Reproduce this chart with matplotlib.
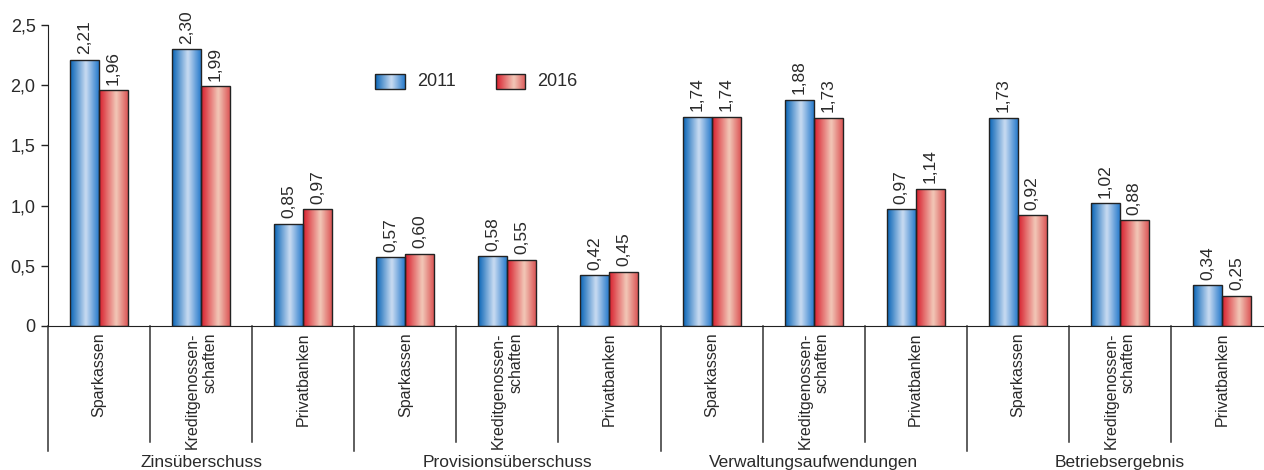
# grouped bar chart with gradient bars, 2011 vs 2016
import matplotlib.pyplot as plt
import numpy as np
from matplotlib.colors import LinearSegmentedColormap
from matplotlib.transforms import blended_transform_factory
from matplotlib.patches import Rectangle

plt.rcParams['font.family'] = ['Liberation Sans Narrow', 'Liberation Sans', 'DejaVu Sans']

groups = ['Zinsüberschuss', 'Provisionsüberschuss', 'Verwaltungsaufwendungen', 'Betriebsergebnis']
banks = ['Sparkassen', 'Kreditgenossen-\nschaften', 'Privatbanken']
vals_2011 = [2.21, 2.30, 0.85, 0.57, 0.58, 0.42, 1.74, 1.88, 0.97, 1.73, 1.02, 0.34]
vals_2016 = [1.96, 1.99, 0.97, 0.60, 0.55, 0.45, 1.74, 1.73, 1.14, 0.92, 0.88, 0.25]
years = ['2011', '2016']

blue_cm = LinearSegmentedColormap.from_list('b', [(0, '#0864b6'), (0.55, '#cadcf2'), (1, '#2a7ccc')])
red_cm = LinearSegmentedColormap.from_list('r', [(0, '#d81e2c'), (0.6, '#f2c8b8'), (1, '#dc5858')])
grad = np.linspace(0, 1, 64).reshape(1, -1)
txt = '#2a2a2a'

fig = plt.figure(figsize=(12.64, 4.70), dpi=100)
ax = fig.add_axes([48/1264, 144/470, 1225/1264, 301/470])

n = len(vals_2011)
x = np.arange(n) + 0.5
w = 0.284

def gbar(xs, ys, cmap):
    bars = ax.bar(xs, ys, width=w, align='edge', facecolor='none',
                  edgecolor='#222222', linewidth=1.0, zorder=3)
    for b in bars:
        bx, by = b.get_x(), b.get_y()
        im = ax.imshow(grad, cmap=cmap, aspect='auto', extent=[bx, bx + b.get_width(), by, by + b.get_height()],
                       zorder=2, interpolation='bicubic')
        im.set_clip_path(b)
    return bars

gbar(x - w, vals_2011, blue_cm)
gbar(x, vals_2016, red_cm)

# value labels
for xi, v in zip(x - w/2, vals_2011):
    ax.text(xi, v + 0.045, f'{v:.2f}'.replace('.', ','), rotation=90, ha='center', va='bottom', fontsize=12.5, color=txt)
for xi, v in zip(x + w/2, vals_2016):
    ax.text(xi, v + 0.045, f'{v:.2f}'.replace('.', ','), rotation=90, ha='center', va='bottom', fontsize=12.5, color=txt)

ax.set_xlim(0, n)
ax.set_ylim(0, 2.5)
ax.set_yticks([0, 0.5, 1.0, 1.5, 2.0, 2.5])
ax.set_yticklabels(['0', '0,5', '1,0', '1,5', '2,0', '2,5'], fontsize=13, color=txt)
ax.tick_params(axis='y', length=5, width=1, color='#222222', pad=4)
ax.set_xticks([])
for s in ['top', 'right']:
    ax.spines[s].set_visible(False)
ax.spines['left'].set_color('#222222')
ax.spines['bottom'].set_color('#222222')

# category labels and separators below the axis
tr = blended_transform_factory(ax.transData, ax.transAxes)
for i in range(n):
    ax.text(x[i], -0.02, banks[i % 3], rotation=90, ha='center', va='top', ma='right',
            fontsize=11.5, color=txt, transform=tr, clip_on=False)
for i in range(n):
    depth = -0.415 if i % 3 == 0 else -0.385
    ax.plot([i, i], [0, depth], transform=tr, color='#333333', lw=1.1, clip_on=False)
for g, name in enumerate(groups):
    ax.text(g*3 + 1.5, -0.455, name, ha='center', va='center', fontsize=12.5, color=txt,
            transform=tr, clip_on=False)

# legend drawn as gradient patches
for k, (cm, lab) in enumerate([(blue_cm, years[0]), (red_cm, years[1])]):
    lx = 3.205 + k*1.18
    y0, y1 = 1.97, 2.09
    r = Rectangle((lx, y0), 0.29, y1 - y0, facecolor='none', edgecolor='#222222', lw=1.0, zorder=3)
    ax.add_patch(r)
    im = ax.imshow(grad, cmap=cm, aspect='auto', extent=[lx, lx + 0.29, y0, y1], zorder=2, interpolation='bicubic')
    im.set_clip_path(r)
    ax.text(lx + 0.41, (y0 + y1)/2, lab, ha='left', va='center', fontsize=13, color=txt)

ax.set_xlim(0, n)
ax.set_ylim(0, 2.5)
fig.savefig('out.png', dpi=100)
